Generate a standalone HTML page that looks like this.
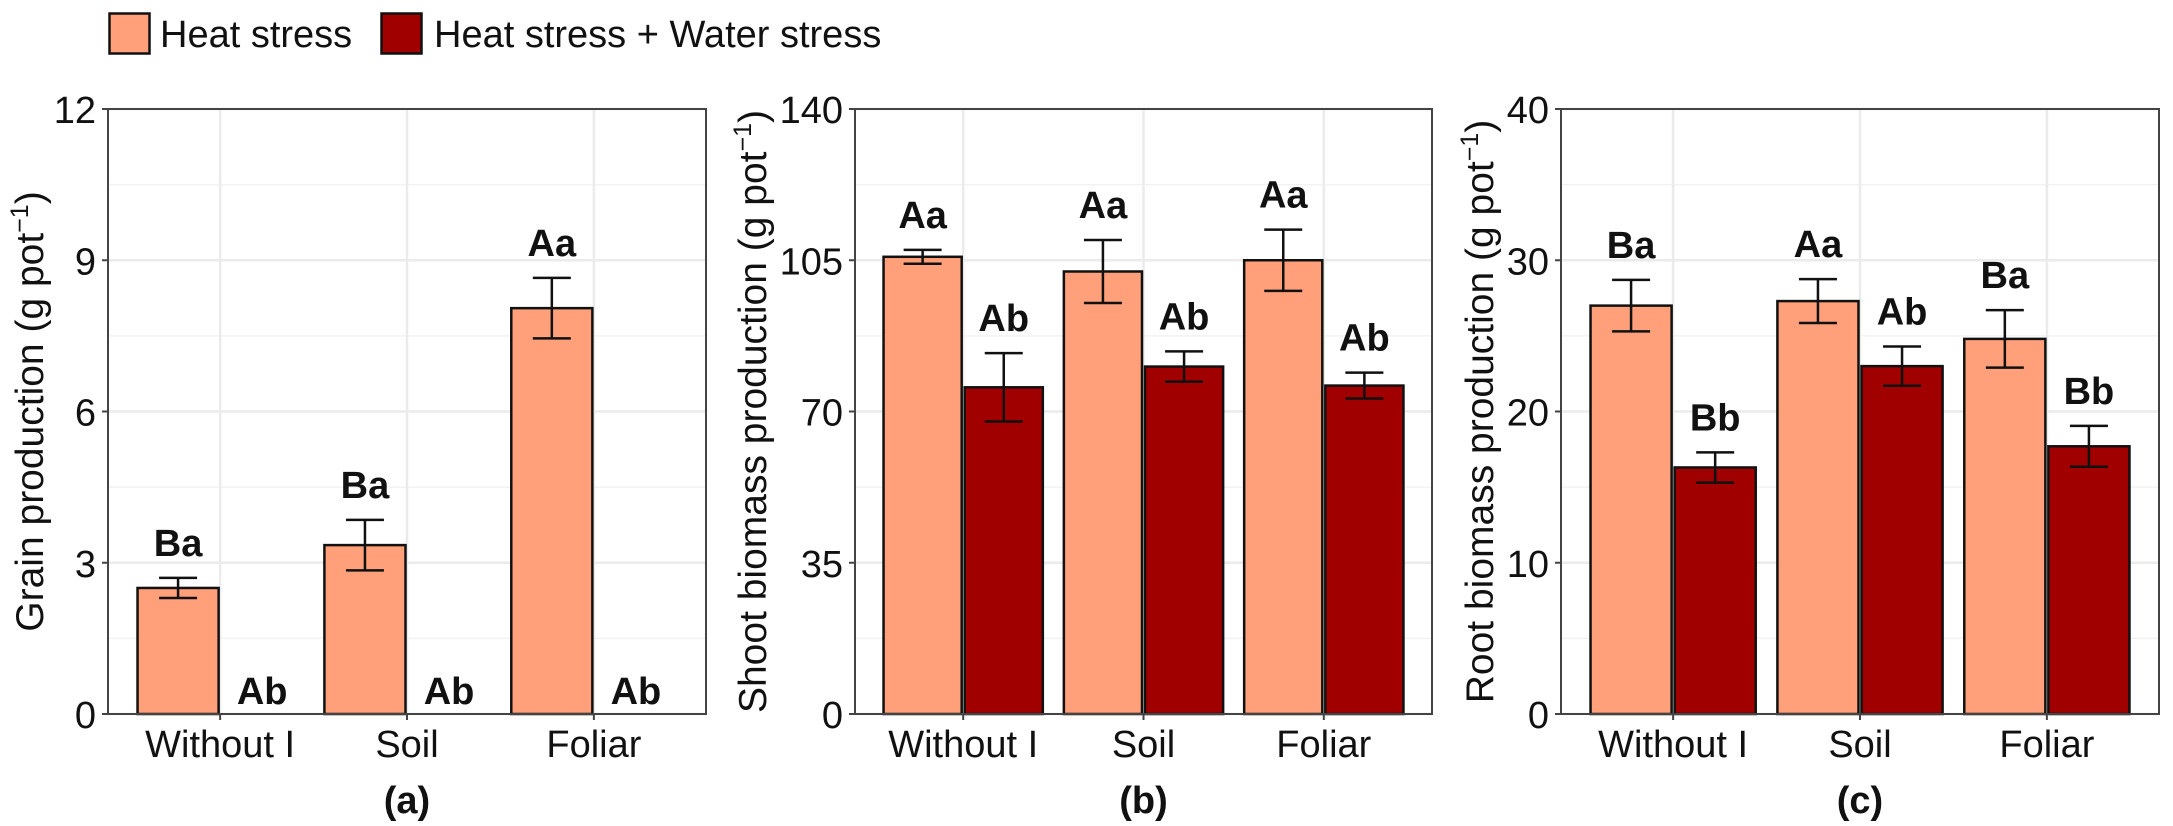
<!DOCTYPE html>
<html><head><meta charset="utf-8"><style>
html,body{margin:0;padding:0;background:#fff;}
svg{display:block;font-family:"Liberation Sans",Arial,sans-serif;}
</style></head><body>
<svg id="chart" width="2173" height="826" viewBox="0 0 2173 826">
  <g>
    <g>
      <rect x="109.5" y="13.5" width="40" height="40" fill="#FFA07A" stroke="#111" stroke-width="2.5"/>
      <text x="160" y="47" font-size="38" fill="#111">Heat stress</text>
    </g>
    <g>
      <rect x="381.5" y="13.5" width="40" height="40" fill="#A00000" stroke="#111" stroke-width="2.5"/>
      <text x="434" y="47" font-size="38" fill="#111">Heat stress + Water stress</text>
    </g>
  </g>
</svg>
<script>
const categories = ["Without I", "Soil", "Foliar"];
const seriesNames = ["Heat stress", "Heat stress + Water stress"];
const gHeat = [2.5, 3.35, 8.05];
const gWater = [0, 0, 0];
const gHeatErr = [0.2, 0.5, 0.6];
const gWaterErr = [0, 0, 0];
const gHeatLab = ["Ba", "Ba", "Aa"];
const gWaterLab = ["Ab", "Ab", "Ab"];
const gTicks = [0, 3, 6, 9, 12];
const sHeat = [105.8, 102.4, 105.0];
const sWater = [75.6, 80.4, 76.0];
const sHeatErr = [1.6, 7.3, 7.1];
const sWaterErr = [7.9, 3.5, 3.0];
const sHeatLab = ["Aa", "Aa", "Aa"];
const sWaterLab = ["Ab", "Ab", "Ab"];
const sTicks = [0, 35, 70, 105, 140];
const rHeat = [27.0, 27.3, 24.8];
const rWater = [16.3, 23.0, 17.7];
const rHeatErr = [1.7, 1.45, 1.9];
const rWaterErr = [1.0, 1.3, 1.35];
const rHeatLab = ["Ba", "Aa", "Ba"];
const rWaterLab = ["Bb", "Ab", "Bb"];
const rTicks = [0, 10, 20, 30, 40];

const NS = "http://www.w3.org/2000/svg";
const svg = document.getElementById("chart");
function mk(tag, attrs, parent) {
  const e = document.createElementNS(NS, tag);
  for (const k in attrs) e.setAttribute(k, attrs[k]);
  parent.appendChild(e);
  return e;
}
const TOP = 109, BOT = 714;
const colors = ["#FFA07A", "#A00000"];

function panel(id, left, right, ticks, heat, water, hErr, wErr, hLab, wLab, ytitle, letter, titleX) {
  const g = mk("g", {}, svg);
  
  
  const ymax = ticks[ticks.length - 1];
  const y = v => BOT - (v / ymax) * (BOT - TOP);
  const unit = (right - left) / 3.2;
  const xc = i => left + (0.6 + i) * unit;
  const bw = unit * 0.45;
  const grid = mk("g", {}, g);
  
  
  for (let i = 0; i < ticks.length - 1; i++) {
    const m = (ticks[i] + ticks[i + 1]) / 2;
    mk("line", {x1: left, x2: right, y1: y(m), y2: y(m), stroke: "#f2f2f2", "stroke-width": 1.5}, grid);
  }
  ticks.forEach(t => mk("line", {x1: left, x2: right, y1: y(t), y2: y(t), stroke: "#ebebeb", "stroke-width": 2.5}, grid));
  categories.forEach((c, i) => mk("line", {x1: xc(i), x2: xc(i), y1: TOP, y2: BOT, stroke: "#ebebeb", "stroke-width": 2.5}, grid));
  const series = [[heat, hErr, hLab], [water, wErr, wLab]];
  series.forEach((s, si) => {
    categories.forEach((c, i) => {
      const x0 = xc(i) - bw + si * bw;
      const v = s[0][i];
      const bar = mk("rect", {x: x0 + 1.5, y: y(v), width: bw - 3, height: Math.max(0, BOT - y(v)), fill: colors[si], stroke: "#111", "stroke-width": 2.5}, g);
      
      
      const e = s[1][i];
      const cx = x0 + bw / 2;
      if (e > 0) {
        const eg = mk("g", {stroke: "#111", "stroke-width": 2.5}, g);
        
        
        mk("line", {x1: cx, x2: cx, y1: y(v + e), y2: y(v - e)}, eg);
        mk("line", {x1: cx - 19, x2: cx + 19, y1: y(v + e), y2: y(v + e)}, eg);
        mk("line", {x1: cx - 19, x2: cx + 19, y1: y(v - e), y2: y(v - e)}, eg);
      }
      const lab = mk("text", {x: cx, y: y(v + e) - (e > 0 ? 22 : 10), "font-size": 38, "font-weight": "bold", "text-anchor": "middle", fill: "#111"}, g);
      lab.textContent = s[2][i];
      
      
    });
  });
  const border = mk("rect", {x: left, y: TOP, width: right - left, height: BOT - TOP, fill: "none", stroke: "#444", "stroke-width": 2}, g);
  
  
  ticks.forEach(t => {
    mk("line", {x1: left - 6, x2: left, y1: y(t), y2: y(t), stroke: "#444", "stroke-width": 2}, g);
    const tl = mk("text", {x: left - 12, y: y(t) + 14, "font-size": 38, "text-anchor": "end", fill: "#111"}, g);
    tl.textContent = t;
    
    
  });
  categories.forEach((c, i) => {
    mk("line", {x1: xc(i), x2: xc(i), y1: BOT, y2: BOT + 6, stroke: "#444", "stroke-width": 2}, g);
    const xl = mk("text", {x: xc(i), y: 757, "font-size": 38, "text-anchor": "middle", fill: "#111"}, g);
    xl.textContent = c;
    
    
  });
  const yt = mk("text", {x: 0, y: 0, "font-size": 39, "text-anchor": "middle", fill: "#111", transform: "translate(" + (titleX + 13) + "," + ((TOP + BOT) / 2) + ") rotate(-90)"}, g);
  yt.innerHTML = ytitle + ' (g pot<tspan font-size="25" dy="-15">−1</tspan><tspan dy="15">)</tspan>';
  
  
  const pl = mk("text", {x: (left + right) / 2, y: 813, "font-size": 38, "font-weight": "bold", "text-anchor": "middle", fill: "#111"}, g);
  pl.textContent = letter;
  
  
}
panel("grain", 108, 706, gTicks, gHeat, gWater, gHeatErr, gWaterErr, gHeatLab, gWaterLab, "Grain production", "(a)", 30);
panel("shoot", 855, 1432, sTicks, sHeat, sWater, sHeatErr, sWaterErr, sHeatLab, sWaterLab, "Shoot biomass production", "(b)", 753);
panel("root", 1561, 2159, rTicks, rHeat, rWater, rHeatErr, rWaterErr, rHeatLab, rWaterLab, "Root biomass production", "(c)", 1480);
</script>
</body></html>
